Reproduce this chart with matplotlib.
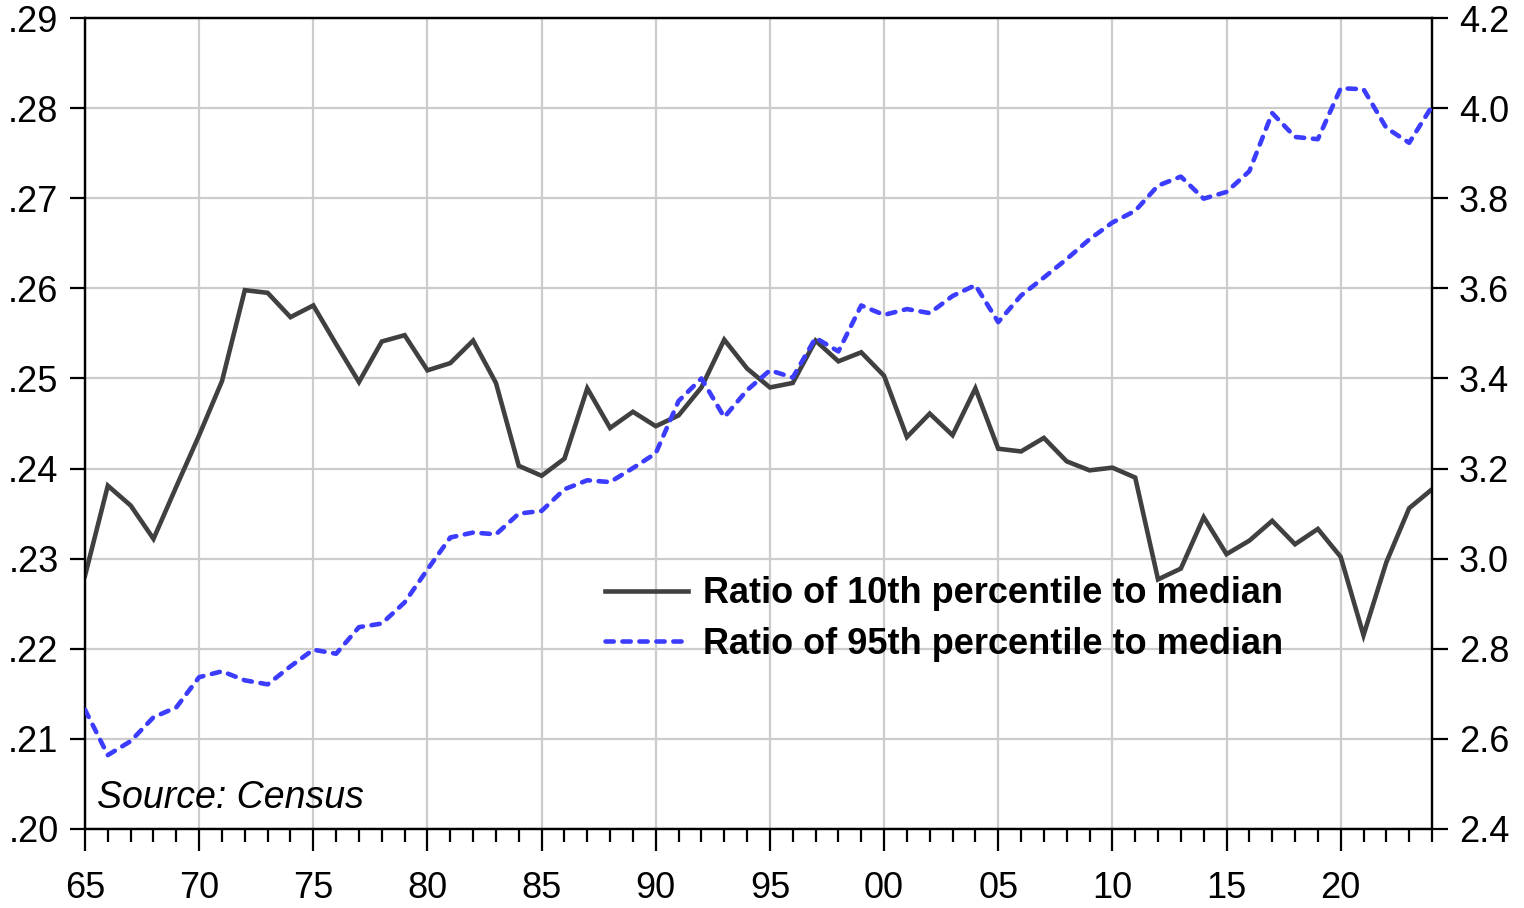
import matplotlib.pyplot as plt
from matplotlib.ticker import FixedLocator, MultipleLocator, FuncFormatter

years = list(range(1965, 2025))

# Ratio of 10th percentile to median (left axis)
p10_ratio = [
    .2281, .2381, .2359, .2322, .2380, .2437, .2497, .2598, .2595, .2568,
    .2581, .2538, .2496, .2541, .2548, .2509, .2517, .2542, .2495, .2403,
    .2392, .2411, .2489, .2445, .2463, .2447, .2459, .2490, .2543, .2511,
    .2490, .2495, .2542, .2519, .2529, .2503, .2435, .2461, .2437, .2489,
    .2422, .2419, .2434, .2408, .2398, .2401, .2390, .2277, .2289, .2346,
    .2305, .2320, .2342, .2316, .2333, .2302, .2215, .2296, .2356, .2377,
]

# Ratio of 95th percentile to median (right axis)
p95_ratio = [
    2.665, 2.564, 2.595, 2.648, 2.670, 2.737, 2.750, 2.730, 2.721, 2.761,
    2.798, 2.789, 2.848, 2.856, 2.903, 2.976, 3.047, 3.058, 3.054, 3.100,
    3.106, 3.154, 3.174, 3.170, 3.201, 3.234, 3.350, 3.400, 3.314, 3.374,
    3.418, 3.402, 3.490, 3.460, 3.562, 3.541, 3.554, 3.545, 3.583, 3.607,
    3.525, 3.584, 3.624, 3.665, 3.709, 3.746, 3.772, 3.828, 3.848, 3.799,
    3.814, 3.860, 3.989, 3.936, 3.931, 4.044, 4.042, 3.956, 3.923, 4.004,
]

left_ticks = [.20, .21, .22, .23, .24, .25, .26, .27, .28, .29]
right_ticks = [2.4, 2.6, 2.8, 3.0, 3.2, 3.4, 3.6, 3.8, 4.0, 4.2]
x_ticks = list(range(1965, 2021, 5))

plt.rcParams["font.family"] = ["Liberation Sans", "DejaVu Sans"]

fig = plt.figure(figsize=(15.24, 9.08), dpi=100)
ax = fig.add_axes([85 / 1524, 1 - 829 / 908, (1432 - 85) / 1524, (829 - 18) / 908])
ax2 = ax.twinx()

line1, = ax.plot(years, p10_ratio, color="#404040", lw=3.3, solid_joinstyle="miter",
                 label="Ratio of 10th percentile to median", zorder=3)
line2, = ax2.plot(years, p95_ratio, color="#3c3cff", lw=3.3, linestyle=(0, (1.8, 1.9)),
                  dash_capstyle="round", label="Ratio of 95th percentile to median",
                  zorder=3)

ax.set_xlim(1965, 2024)
ax.set_ylim(.20, .29)
ax2.set_ylim(2.4, 4.2)

ax.xaxis.set_major_locator(FixedLocator(x_ticks))
ax.xaxis.set_minor_locator(MultipleLocator(1))
ax.xaxis.set_major_formatter(FuncFormatter(lambda v, p: f"{int(v) % 100:02d}"))
ax.yaxis.set_major_locator(FixedLocator(left_ticks))
ax.yaxis.set_major_formatter(FuncFormatter(lambda v, p: f"{v:.2f}"[1:]))
ax2.yaxis.set_major_locator(FixedLocator(right_ticks))
ax2.yaxis.set_major_formatter(FuncFormatter(lambda v, p: f"{v:.1f}"))

ax.grid(True, color="#cccccc", lw=1.6)
ax.set_axisbelow(True)

for a in (ax, ax2):
    for s in a.spines.values():
        s.set_linewidth(1.6)
        s.set_color("black")

ax.tick_params(axis="x", which="major", direction="out", length=16, width=1.6,
               labelsize=26, pad=14)
ax.tick_params(axis="x", which="minor", direction="out", length=9, width=1.6)
ax.tick_params(axis="y", direction="out", length=11, width=1.6, labelsize=26, pad=8)
ax2.tick_params(axis="y", direction="out", length=11.5, width=1.6, labelsize=26, pad=8)

ax.text(0.009, 0.026, "Source: Census", transform=ax.transAxes, fontsize=27,
        style="italic", ha="left", va="baseline")

leg = fig.legend(handles=[line1, line2], loc="center left",
                 bbox_to_anchor=(605 / 1524, 1 - 619 / 908), frameon=False,
                 prop={"weight": "bold", "size": 26}, handlelength=2.3,
                 handletextpad=0.42, labelspacing=0.42, borderpad=0,
                 borderaxespad=0)

fig.savefig("out.png", dpi=100)
